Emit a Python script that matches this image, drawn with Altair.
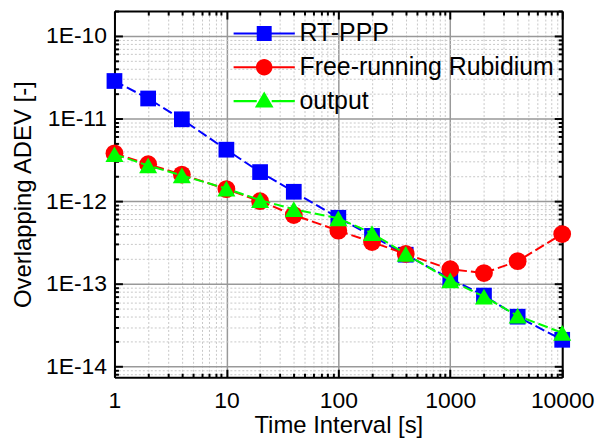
import altair as alt
import pandas as pd

tau = [1, 2, 4, 10, 20, 40, 100, 200, 400, 1000, 2000, 4000, 10000]
series_names = ["RT-PPP", "Free-running Rubidium", "output"]
rtppp = [2.85e-11, 1.75e-11, 9.8e-12, 4.2e-12, 2.25e-12, 1.3e-12, 6.3e-13,
         3.8e-13, 2.25e-13, 1.15e-13, 7.2e-14, 4.0e-14, 2.1e-14]
rubidium = [3.8e-12, 2.8e-12, 2.1e-12, 1.4e-12, 1.0e-12, 6.8e-13, 4.4e-13,
            3.2e-13, 2.3e-13, 1.5e-13, 1.35e-13, 1.88e-13, 4.0e-13]
output = [3.7e-12, 2.7e-12, 2.05e-12, 1.42e-12, 1.03e-12, 8.0e-13, 6.2e-13,
          4.1e-13, 2.3e-13, 1.1e-13, 7.0e-14, 4.1e-14, 2.55e-14]
colors = ["#0000FF", "#FF0000", "#00FF00"]
marker_shapes = ["square", "circle", "triangle-up"]
marker_sizes = [250, 320, 330]

x_major = [1, 10, 100, 1000, 10000]
x_minor = [m * 10 ** e for e in range(0, 4) for m in range(2, 10)]
y_major = [1e-14, 1e-13, 1e-12, 1e-11, 1e-10]
y_minor = [float(f"{m}e{e}") for e in range(-15, -9) for m in range(2, 10)
           if 7.4e-15 <= float(f"{m}e{e}") <= 2e-10]

# legend symbols: a line segment with the marker in the middle
legend_paths = [
    "M-4.1,-0.14H-0.9V0.14H-4.1Z M0.9,-0.14H4.1V0.14H0.9Z M-1,-1H1V1H-1Z",
    "M-4.1,-0.14H-1V0.14H-4.1Z M1,-0.14H4.1V0.14H1Z M-1.1,0A1.1,1.1 0 1,1 1.1,0A1.1,1.1 0 1,1 -1.1,0Z",
    "M-4.1,-0.14H-1V0.14H-4.1Z M1,-0.14H4.1V0.14H1Z M0,-1.3L1.25,0.85H-1.25Z",
]

rows = []
for name, vals in zip(series_names, [rtppp, rubidium, output]):
    for t, v in zip(tau, vals):
        rows.append({"t": t, "v": v, "series": name})
df = pd.DataFrame(rows)

FONT = "Liberation Sans"
xs = alt.Scale(type="log", domain=[1, 10000], nice=False)
ys = alt.Scale(type="log", domain=[7.4e-15, 2e-10], nice=False)
cs = alt.Scale(domain=series_names, range=colors)

base = alt.Chart(df)


def axis_layer(xaxis, yaxis):
    return base.mark_point(opacity=0).encode(
        x=alt.X("t:Q", scale=xs, axis=xaxis),
        y=alt.Y("v:Q", scale=ys, axis=yaxis),
    )


common = dict(title=None, labels=False, domain=False)

minor_grid = axis_layer(
    alt.Axis(orient="bottom", values=x_minor, grid=True, gridColor="#c8c8c8",
             gridDash=[2, 2], gridWidth=1, ticks=False, **common),
    alt.Axis(orient="left", values=y_minor, grid=True, gridColor="#c8c8c8",
             gridDash=[2, 2], gridWidth=1, ticks=False, **common),
)

major_grid = axis_layer(
    alt.Axis(orient="bottom", values=x_major, grid=True, gridColor="#999999",
             gridWidth=1.5, ticks=False, tickSize=0, format="d",
             labelFont=FONT, labelFontSize=23, labelColor="black",
             labelPadding=12, labelFlush=False,
             domain=True, domainColor="black", domainWidth=2,
             title="Time Interval [s]", titleFont=FONT, titleFontSize=24,
             titleFontWeight="normal", titleColor="black", titlePadding=2),
    alt.Axis(orient="left", values=y_major, grid=True, gridColor="#999999",
             gridWidth=1.5, ticks=False, tickSize=0,
             labelExpr="'1E-' + round(-log(datum.value) / LN10)",
             labelFont=FONT, labelFontSize=23, labelColor="black",
             labelPadding=8, labelFlush=False,
             domain=True, domainColor="black", domainWidth=2,
             title="Overlapping ADEV [-]", titleFont=FONT, titleFontSize=24,
             titleFontWeight="normal", titleColor="black", titlePadding=10),
)


def tick_axis(orient, values, size):
    return alt.Axis(orient=orient, values=values, grid=False, ticks=True,
                    tickSize=size, tickWidth=2, tickColor="black",
                    offset=-size, **common)


ticks_major_bl = axis_layer(tick_axis("bottom", x_major, 8), tick_axis("left", y_major, 8))
ticks_minor_bl = axis_layer(tick_axis("bottom", x_minor, 4), tick_axis("left", y_minor, 4))
ticks_major_tr = axis_layer(tick_axis("top", x_major, 8), tick_axis("right", y_major, 8))
ticks_minor_tr = axis_layer(tick_axis("top", x_minor, 4), tick_axis("right", y_minor, 4))
frame_tr = axis_layer(
    alt.Axis(orient="top", values=x_major, grid=False, ticks=False, labels=False,
             domain=True, domainColor="black", domainWidth=2, title=None),
    alt.Axis(orient="right", values=y_major, grid=False, ticks=False, labels=False,
             domain=True, domainColor="black", domainWidth=2, title=None),
)

data_layers = []
for name, color, shape, size in zip(series_names, colors, marker_shapes, marker_sizes):
    sub = base.transform_filter(alt.datum.series == name)
    enc = dict(
        x=alt.X("t:Q", scale=xs, axis=None),
        y=alt.Y("v:Q", scale=ys, axis=None),
    )
    data_layers.append(sub.mark_line(strokeWidth=2, strokeDash=[10, 4], color=color).encode(**enc))
    data_layers.append(sub.mark_point(shape=shape, size=size, filled=True, color=color,
                                      opacity=1, strokeWidth=0).encode(**enc))

leg = alt.Legend(orient="none", legendX=138, legendY=10,
                 symbolSize=225, symbolStrokeWidth=0,
                 labelFont=FONT, labelFontSize=25, labelLimit=0,
                 labelColor="black", labelOffset=23,
                 rowPadding=8, title=None)

legend_layer = base.transform_filter(alt.datum.t < 0).mark_point(
    filled=True, opacity=1, strokeWidth=0
).encode(
    x=alt.X("t:Q", scale=xs, axis=None),
    y=alt.Y("v:Q", scale=ys, axis=None),
    color=alt.Color("series:N", scale=cs, title=None, legend=leg),
    shape=alt.Shape("series:N", scale=alt.Scale(domain=series_names, range=legend_paths),
                    title=None, legend=leg),
)

chart = alt.layer(
    minor_grid, major_grid, ticks_minor_bl, ticks_major_bl,
    ticks_minor_tr, ticks_major_tr, frame_tr,
    *data_layers, legend_layer,
).resolve_axis(x="independent", y="independent").properties(
    width=450, height=368,
    autosize=alt.AutoSizeParams(type="none"),
    padding={"left": 107, "top": 2, "right": 40, "bottom": 63},
).configure_view(stroke=None)

chart.save("out.html", embed_options={"renderer": "svg", "actions": False})
